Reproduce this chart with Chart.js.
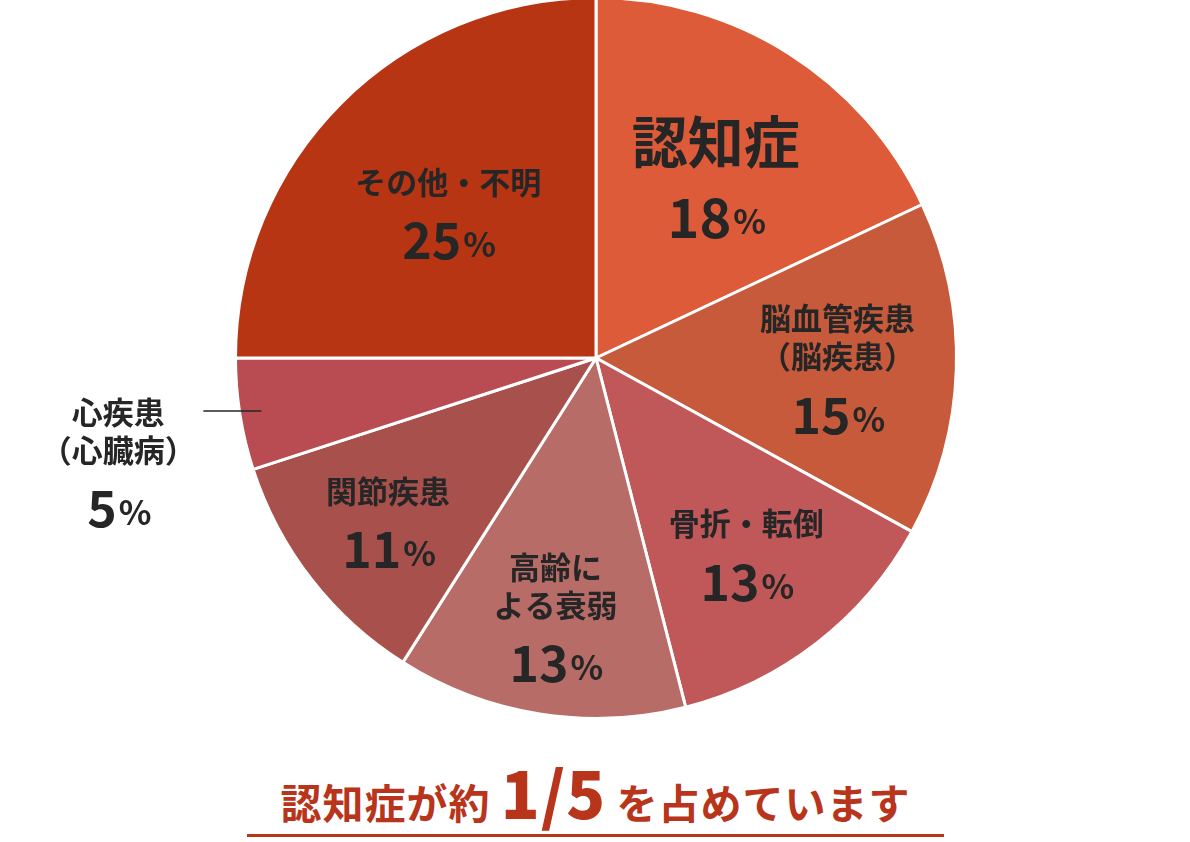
<!DOCTYPE html>
<html><head><meta charset="utf-8">
<script src="https://cdn.jsdelivr.net/npm/chart.js@4/dist/chart.umd.min.js"></script>
<style>
html,body{margin:0;padding:0;background:#fff;width:1190px;height:842px;overflow:hidden;font-family:"Noto Sans CJK JP",sans-serif}
#wrap{position:absolute;left:1px;top:-6px;width:1190px;height:728px}
#title{position:absolute;left:247px;top:758px;width:697px;text-align:center;color:#B8341A;font-weight:bold;font-size:41px;line-height:66px;border-bottom:3px solid #B8341A;letter-spacing:1px}
#title b{font-size:64px;}
</style></head><body>
<div id="wrap"><canvas id="pie"></canvas></div>
<div id="title">認知症が約 <b>1/5</b> を占めています</div>
<script>
// data
const categories = ['認知症', '脳血管疾患（脳疾患）', '骨折・転倒', '高齢による衰弱', '関節疾患', '心疾患（心臓病）', 'その他・不明'];
const shares = [18, 15, 13, 13, 11, 5, 25];
const colors = ['#DD5B38', '#C65A3B', '#C0585A', '#B86C67', '#A8504C', '#B84C52', '#B83513'];
const labelLines = [['認知症'], ['脳血管疾患', '（脳疾患）'], ['骨折・転倒'], ['高齢に', 'よる衰弱'], ['関節疾患'], ['心疾患', '（心臓病）'], ['その他・不明']];
const labelRadius = [0.62, 0.67, 0.68, 0.72, 0.73, 0, 0.58];

const labelPlugin = {
    id: 'labels',
    afterDatasetsDraw(chart) {
        const ctx = chart.ctx;
        const arcs = chart.getDatasetMeta(0).data;
        ctx.save();
        ctx.textAlign = 'center';
        ctx.textBaseline = 'middle';
        ctx.fillStyle = '#262626';
        arcs.forEach((arc, i) => {
            const mid = (arc.startAngle + arc.endAngle) / 2;
            let x, y;
            if (labelRadius[i] === 0) {
                // outside label with leader line
                const ex = arc.x + Math.cos(mid) * arc.outerRadius * 0.94;
                const ey = arc.y + Math.sin(mid) * arc.outerRadius * 0.94;
                ctx.strokeStyle = '#262626';
                ctx.lineWidth = 1.5;
                ctx.beginPath();
                ctx.moveTo(ex, ey);
                ctx.lineTo(ex - 58, ey);
                ctx.stroke();
                x = ex - 143;
                y = ey + 48;
            } else {
                x = arc.x + Math.cos(mid) * arc.outerRadius * labelRadius[i];
                y = arc.y + Math.sin(mid) * arc.outerRadius * labelRadius[i];
            }
            const lines = labelLines[i];
            const big = i === 0;
            const lh = big ? 60 : 38;
            const nameSize = big ? 56 : 31;
            const total = lines.length * lh + 56;
            let cy = y - total / 2 + lh / 2;
            ctx.font = 'bold ' + nameSize + 'px "Noto Sans CJK JP"';
            lines.forEach(l => { ctx.fillText(l, x, cy); cy += lh; });
            cy += (big ? 16 : 20);
            const num = String(shares[i]);
            const numFont = (big ? 'bold 54px' : 'bold 50px') + ' "Noto Sans CJK JP"';
            ctx.font = numFont;
            const nw = ctx.measureText(num).width;
            ctx.font = 'bold 34px "Noto Sans CJK JP"';
            const pw = ctx.measureText('%').width;
            const sx = x - (nw + pw) / 2;
            ctx.textAlign = 'left';
            ctx.font = numFont;
            ctx.fillText(num, sx, cy);
            ctx.font = 'bold 34px "Noto Sans CJK JP"';
            ctx.fillText('%', sx + nw + 2, cy + 4);
            ctx.textAlign = 'center';
        });
        ctx.restore();
    }
};

new Chart(document.getElementById('pie'), {
    type: 'pie',
    data: {
        labels: categories,
        datasets: [{ data: shares, backgroundColor: colors, borderColor: '#fff', borderWidth: 3 }],
    },
    options: {
        responsive: true,
        maintainAspectRatio: false,
        animation: false,
        layout: { padding: 2 },
        plugins: { legend: { display: false }, tooltip: { enabled: false } },
    },
    plugins: [labelPlugin],
});
</script>
</body></html>
